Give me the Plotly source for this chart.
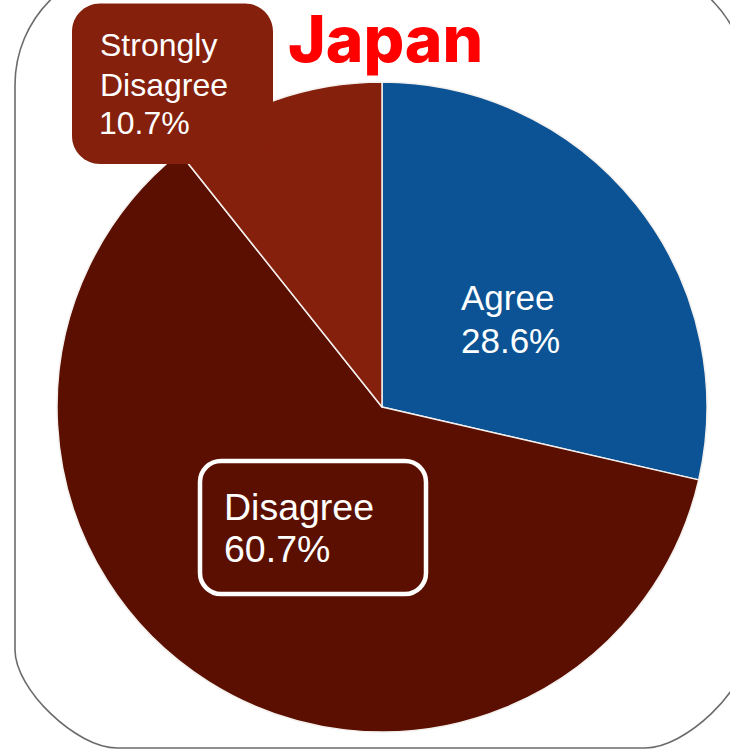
import plotly.graph_objects as go

# Survey response shares for Japan
categories = ["Agree", "Disagree", "Strongly Disagree"]
shares = [28.6, 60.7, 10.7]
slice_colors = ["#0b5394", "#5b0f00", "#85200c"]
title_text = "Japan"

W, H = 730, 749


def corner_path(x0, y0, x1, y1, r_top, r_bot_x, r_bot_y, k_top=0.5523, k_bot=0.4):
    """Rounded rectangle path (pixel coords, y down) using cubic Bezier corners."""
    ct = r_top * (1 - k_top)
    cbx = r_bot_x * (1 - k_bot)
    cby = r_bot_y * (1 - k_bot)
    return (
        f"M {x0 + r_top},{y0} L {x1 - r_top},{y0} "
        f"C {x1 - ct},{y0} {x1},{y0 + ct} {x1},{y0 + r_top} "
        f"L {x1},{y1 - r_bot_y} "
        f"C {x1},{y1 - cby} {x1 - cbx},{y1} {x1 - r_bot_x},{y1} "
        f"L {x0 + r_bot_x},{y1} "
        f"C {x0 + cbx},{y1} {x0},{y1 - cby} {x0},{y1 - r_bot_y} "
        f"L {x0},{y0 + r_top} "
        f"C {x0},{y0 + ct} {x0 + ct},{y0} {x0 + r_top},{y0} Z"
    )


def rounded_rect(x0, y0, x1, y1, r):
    return corner_path(x0, y0, x1, y1, r, r, r, 0.5523, 0.5523)


fig = go.Figure()

fig.add_trace(
    go.Pie(
        labels=categories,
        values=shares,
        sort=False,
        direction="clockwise",
        rotation=0,
        marker=dict(colors=slice_colors, line=dict(color="#f4f0ee", width=1.5)),
        textinfo="none",
        hoverinfo="skip",
        domain=dict(x=[0.0781, 0.9685], y=[0.0227, 0.8905]),
        showlegend=False,
    )
)

shapes = [
    # outer card outline
    dict(type="path", xref="x", yref="y", layer="below",
         path=corner_path(15, -35, 747, 748, 120, 102, 98),
         line=dict(color="#6b6b6b", width=1.6), fillcolor="rgba(0,0,0,0)"),
    # callout box for the smallest slice
    dict(type="path", xref="x", yref="y", layer="above",
         path=rounded_rect(72, 3.5, 273, 164, 28),
         line=dict(width=0), fillcolor=slice_colors[2]),
    # outlined box for the largest slice
    dict(type="path", xref="x", yref="y", layer="above",
         path=rounded_rect(200, 461, 426, 594, 21),
         line=dict(color="white", width=4.5), fillcolor="rgba(0,0,0,0)"),
]

LIB_MID = 0.3465  # (ascent - descent) / 2 for Liberation Sans


def text_line(txt, x, baseline, size, color="white", family="Liberation Sans, Arial, sans-serif"):
    return dict(
        text=txt, xref="x", yref="y", x=x, y=baseline - LIB_MID * size,
        xanchor="left", yanchor="middle", showarrow=False,
        font=dict(family=family, size=size, color=color),
    )


pct = [f"{v:.1f}%" for v in shares]

annotations = [
    # slice labels
    text_line(categories[0], 459, 309.5, 35),
    text_line(pct[0], 459, 353, 35),
    text_line(categories[1], 222, 520, 37.5),
    text_line(pct[1], 222, 562, 37.5),
    text_line("Strongly", 98, 56.5, 32),
    text_line("Disagree", 98, 96, 32),
    text_line(pct[2], 97, 134, 32),
    # title
    dict(text=title_text, xref="x", yref="y", x=385.5, y=0,
         xanchor="center", yanchor="top", showarrow=False,
         borderpad=0, borderwidth=0,
         font=dict(family="Inter, sans-serif", size=64, color="#ff0000", weight=800)),
]

fig.update_layout(
    width=W, height=H,
    margin=dict(l=0, r=0, t=0, b=0),
    paper_bgcolor="white", plot_bgcolor="rgba(0,0,0,0)",
    xaxis=dict(range=[0, W], visible=False, fixedrange=True, domain=[0, 1]),
    yaxis=dict(range=[H, 0], visible=False, fixedrange=True, domain=[0, 1]),
    shapes=shapes,
    annotations=annotations,
    showlegend=False,
)

fig.write_html("out.html")
